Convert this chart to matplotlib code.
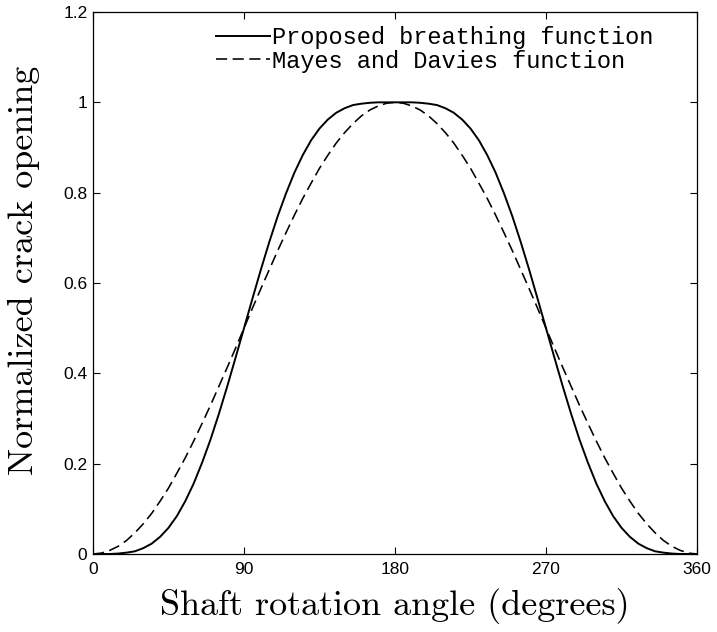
import matplotlib
matplotlib.use("Agg")
import matplotlib.pyplot as plt

# Shaft rotation angle (degrees), sampled every 5 degrees
angle = [0, 5, 10, 15, 20, 25, 30, 35, 40, 45, 50, 55, 60, 65, 70, 75, 80, 85, 90,
         95, 100, 105, 110, 115, 120, 125, 130, 135, 140, 145, 150, 155, 160, 165, 170, 175, 180,
         185, 190, 195, 200, 205, 210, 215, 220, 225, 230, 235, 240, 245, 250, 255, 260, 265, 270,
         275, 280, 285, 290, 295, 300, 305, 310, 315, 320, 325, 330, 335, 340, 345, 350, 355, 360]

proposed = [0.000, 0.000, 0.000, 0.001, 0.003, 0.006, 0.013, 0.023, 0.038, 0.058, 0.084, 0.117,
            0.156, 0.202, 0.253, 0.310, 0.371, 0.435, 0.500, 0.565, 0.629, 0.690, 0.747, 0.798,
            0.844, 0.883, 0.916, 0.942, 0.962, 0.977, 0.987, 0.994, 0.997, 0.999, 1.000, 1.000, 1.000,
            1.000, 1.000, 0.999, 0.997, 0.994, 0.987, 0.977, 0.962, 0.942, 0.916, 0.883, 0.844,
            0.798, 0.747, 0.690, 0.629, 0.565, 0.500, 0.435, 0.371, 0.310, 0.253, 0.202, 0.156,
            0.117, 0.084, 0.058, 0.038, 0.023, 0.013, 0.006, 0.003, 0.001, 0.000, 0.000, 0.000]

mayes_davies = [0.000, 0.002, 0.008, 0.017, 0.030, 0.047, 0.067, 0.090, 0.117, 0.146, 0.179, 0.213,
                0.250, 0.289, 0.329, 0.371, 0.413, 0.456, 0.500, 0.544, 0.587, 0.629, 0.671, 0.711,
                0.750, 0.787, 0.821, 0.854, 0.883, 0.910, 0.933, 0.953, 0.970, 0.983, 0.992, 0.998, 1.000,
                0.998, 0.992, 0.983, 0.970, 0.953, 0.933, 0.910, 0.883, 0.854, 0.821, 0.787, 0.750,
                0.711, 0.671, 0.629, 0.587, 0.544, 0.500, 0.456, 0.413, 0.371, 0.329, 0.289, 0.250,
                0.213, 0.179, 0.146, 0.117, 0.090, 0.067, 0.047, 0.030, 0.017, 0.008, 0.002, 0.000]

xticks = [0, 90, 180, 270, 360]
yticks = [0, 0.2, 0.4, 0.6, 0.8, 1, 1.2]
ytick_labels = ["0", "0.2", "0.4", "0.6", "0.8", "1", "1.2"]
series_labels = ["Proposed breathing function", "Mayes and Davies function"]
xlabel = "Shaft rotation angle (degrees)"
ylabel = "Normalized crack opening"

plt.rcParams["lines.scale_dashes"] = False
plt.rcParams["axes.unicode_minus"] = False

fig = plt.figure(figsize=(7.17, 6.32), dpi=100)
ax = fig.add_axes([93 / 717, 1 - 554 / 632, 604 / 717, 542 / 632])

ax.plot(angle, proposed, color="black", lw=1.4, label=series_labels[0])
ax.plot(angle, mayes_davies, color="black", lw=1.15, ls=(0, (8, 4)), label=series_labels[1])

ax.set_xlim(0, 360)
ax.set_ylim(0, 1.2)
ax.set_xticks(xticks)
ax.set_xticklabels([str(v) for v in xticks])
ax.set_yticks(yticks)
ax.set_yticklabels(ytick_labels)

for lbl in ax.get_xticklabels() + ax.get_yticklabels():
    lbl.set_fontfamily("Liberation Sans")
    lbl.set_fontsize(12.5)

ax.tick_params(direction="in", length=5, width=0.8, top=True, right=True, colors="black")
ax.tick_params(axis="x", pad=6)
ax.tick_params(axis="y", pad=4)
for s in ax.spines.values():
    s.set_linewidth(0.9)
    s.set_color("black")

ax.set_xlabel(xlabel, fontfamily="cmr10", fontsize=26)
ax.xaxis.set_label_coords(0.5, -0.062)
ax.set_ylabel(ylabel, fontfamily="cmr10", fontsize=26)
ax.yaxis.set_label_coords(-0.088, 0.524)

leg = ax.legend(loc="upper left", bbox_to_anchor=(0.203, 0.974), frameon=False,
                prop={"family": "Liberation Mono", "size": 17},
                handlelength=2.3, handletextpad=0.1, labelspacing=0.02,
                borderpad=0.0, borderaxespad=0)

fig.savefig("out.png", dpi=100)
